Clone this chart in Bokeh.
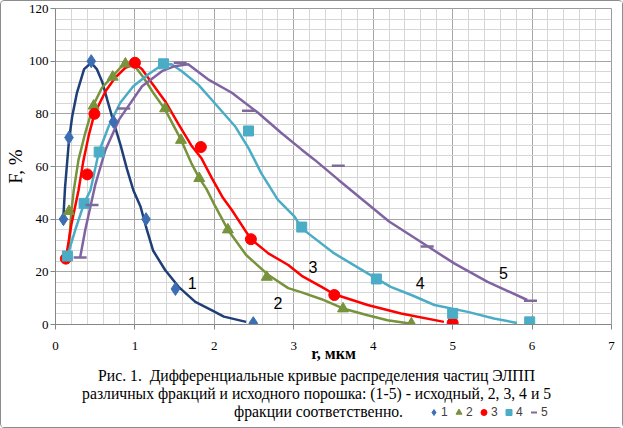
from bokeh.plotting import figure
from bokeh.layouts import column
from bokeh.models import SingleIntervalTicker, Legend, LegendItem, Range1d
from bokeh.core.properties import value
from bokeh.embed import file_html
from bokeh.resources import INLINE

# ---- measured points (markers) ----
x1 = [0.10, 0.17, 0.45, 0.73, 1.14, 1.51, 2.49]
y1 = [40, 71, 100, 77, 40, 13.5, 0.5]
x2 = [0.17, 0.48, 0.72, 0.88, 1.38, 1.58, 1.81, 2.17, 2.66, 3.62, 4.48]
y2 = [43, 83, 94, 99, 82, 70, 55.5, 36, 18, 6, 0.3]
x3 = [0.13, 0.40, 0.49, 1.00, 1.83, 2.46, 3.51, 5.00]
y3 = [25, 57, 80, 99.4, 67.4, 32.4, 11.2, 0.6]
x4 = [0.15, 0.36, 0.55, 1.36, 2.43, 3.10, 4.04, 5.00, 5.97]
y4 = [26, 46, 65.5, 99, 73.5, 37, 17.3, 4.2, 1]
x5 = [0.31, 0.46, 0.86, 1.57, 2.43, 3.56, 4.68, 5.98]
y5 = [25.4, 45.4, 82, 99.4, 81.2, 60.3, 29.6, 9]

# ---- smoothed curves ----
x1l = [0.10, 0.12, 0.17, 0.21, 0.27, 0.36, 0.45, 0.52, 0.59, 0.65, 0.73, 0.82, 0.90, 0.98,
       1.07, 1.15, 1.23, 1.38, 1.55, 1.76, 1.97, 2.12, 2.40]
y1l = [41, 52, 70, 79, 88, 97, 99.4, 97, 92, 85.5, 77, 68, 59, 51,
       44.8, 36, 28, 20.7, 14.3, 8.6, 5.4, 3, 1]
x2l = [0.16, 0.20, 0.23, 0.29, 0.375, 0.48, 0.585, 0.72, 0.815, 0.885, 0.98, 1.11, 1.23, 1.38,
       1.58, 1.71, 1.81, 1.90, 2.00, 2.17, 2.40, 2.68, 2.93, 3.10, 3.35, 3.62, 3.93, 4.18, 4.48]
y2l = [26, 43, 51, 62.6, 72.8, 83.5, 89.9, 94.3, 97.5, 99.2, 98.8, 93.7, 88, 81.6,
       70.2, 61.3, 55.6, 51.5, 45.5, 36, 26.4, 18.8, 13.8, 12.2, 9.6, 6.1, 3.5, 1.6, 0.3]
x3l = [0.13, 0.20, 0.29, 0.35, 0.42, 0.49, 0.63, 0.75, 0.88, 1.00, 1.09, 1.21, 1.38, 1.55,
       1.71, 1.84, 1.97, 2.11, 2.22, 2.46, 2.68, 2.93, 3.10, 3.35, 3.51, 3.93, 4.35, 4.89]
y3l = [25, 38, 51, 62, 72, 80, 88.6, 93.7, 97.5, 99, 96.9, 91.8, 84.8, 76,
       68, 63, 55.5, 48, 43.5, 32.4, 27, 22.6, 18.5, 14.3, 11.5, 7.4, 4.2, 1]
x4l = [0.15, 0.25, 0.36, 0.44, 0.545, 0.67, 0.815, 0.98, 1.17, 1.35, 1.46, 1.59, 1.80, 2.00,
       2.26, 2.43, 2.59, 2.80, 3.01, 3.10, 3.51, 3.93, 4.22, 4.48, 4.77, 5.19, 5.52, 5.81]
y4l = [26, 36, 46, 51, 65.4, 75.3, 84.2, 90.5, 95, 98.7, 98.8, 96.2, 91, 84.2,
       75.3, 67, 57.5, 47.3, 41, 36.5, 27, 19.4, 14.3, 11.2, 7.4, 4.8, 2.3, 0.6]
x5l = [0.31, 0.375, 0.50, 0.63, 0.80, 1.09, 1.34, 1.50, 1.67, 1.92, 2.22, 2.55, 2.84, 3.10,
       3.26, 3.56, 3.87, 4.20, 4.69, 5.02, 5.44, 5.94]
y5l = [25.4, 36, 53, 66.4, 77.8, 90.5, 96.2, 98.1, 98.8, 93.1, 88, 80.4, 72.8, 66.4,
       62.6, 55, 47.3, 39.1, 29.6, 23.2, 16.2, 9.3]

# curve number labels
lab_x = [1.72, 2.80, 3.24, 4.59, 5.64]
lab_y = [15.6, 8.2, 21.7, 15.6, 19.7]
lab_t = ["1", "2", "3", "4", "5"]

series_names = ["1", "2", "3", "4", "5"]

caption = [
    "Рис. 1.\u00a0 Дифференциальные кривые распределения частиц ЭЛПП",
    "различных фракций и исходного порошка: (1-5) - исходный, 2, 3, 4 и 5",
    "фракции соответственно.",
]

W = 621
BL, BR = 52, 11
p = figure(width=W, height=365, x_range=Range1d(0, 7), y_range=Range1d(0, 120),
           output_backend="svg", toolbar_location=None,
           min_border_left=BL, min_border_right=BR, min_border_top=7, min_border_bottom=42)
p.background_fill_color = "white"
p.outline_line_color = "#9a9a9a"
p.outline_line_width = 1

p.xaxis.ticker = SingleIntervalTicker(interval=1, num_minor_ticks=5)
p.yaxis.ticker = SingleIntervalTicker(interval=20, num_minor_ticks=5)
p.xgrid.ticker = SingleIntervalTicker(interval=1, num_minor_ticks=5)
p.ygrid.ticker = SingleIntervalTicker(interval=20, num_minor_ticks=5)
for g in (p.xgrid, p.ygrid):
    g.grid_line_color = "#a6a6a6"
    g.grid_line_width = 1
    g.minor_grid_line_color = "#d6d6d6"
    g.minor_grid_line_width = 1

for ax in (p.xaxis, p.yaxis):
    ax.axis_line_color = "#868686"
    ax.major_tick_line_color = "#868686"
    ax.major_tick_out = 5
    ax.major_tick_in = 0
    ax.minor_tick_line_color = None
    ax.major_label_text_font = "Liberation Serif"
    ax.major_label_text_font_size = "13px"
    ax.major_label_text_color = "black"
    ax.axis_label_text_font = "Liberation Serif"
    ax.axis_label_text_font_style = "normal"
    ax.axis_label_text_color = "black"

p.xaxis.axis_label = "r, мкм"
p.xaxis.axis_label_text_font_style = "bold"
p.xaxis.axis_label_text_font_size = "16px"
p.xaxis.major_label_standoff = 12
p.xaxis.axis_label_standoff = -8
p.yaxis.axis_label = "F, %"
p.yaxis.axis_label_text_font_size = "19px"
p.yaxis.major_label_standoff = 2
p.yaxis.axis_label_standoff = 0

c1m, c1l = "#3c6eb4", "#1f3f77"
c2 = "#77933c"
c3 = "#ff0000"
c4 = "#4bacc6"
c5 = "#8064a2"
c5m = "#7e6a9a"

lw = 2.5
p.line(x1l, y1l, line_width=lw, color=c1l)
p.line(x2l, y2l, line_width=lw, color=c2)
p.line(x3l, y3l, line_width=lw, color=c3)
p.line(x4l, y4l, line_width=lw, color=c4)
p.line(x5l, y5l, line_width=lw, color=c5)

p.scatter(x1, y1, marker="diamond", size=13, color=c1m)
p.scatter(x2, y2, marker="triangle", size=11, color=c2)
p.scatter(x3, y3, marker="circle", size=11, color=c3)
p.scatter(x4, y4, marker="square", size=10, color=c4)
p.scatter(x5, y5, marker="dash", size=13, line_width=2.5, color=c5m)

p.text(x=lab_x, y=lab_y, text=lab_t, text_font=value("Liberation Sans"),
       text_font_size="16px", text_align="center", text_baseline="middle", text_color="black")

# ---- caption + legend panel (same borders as the chart, so frames align) ----
H2 = 61
p2 = figure(width=W, height=H2, x_range=Range1d(BL, W - BR), y_range=Range1d(H2, 0),
            output_backend="svg", toolbar_location=None,
            min_border_left=BL, min_border_right=BR, min_border_top=0, min_border_bottom=0)
p2.axis.visible = False
p2.grid.visible = False
p2.outline_line_color = None
cap_x = [314, 314, 316]
cap_y = [9, 27, 45]
p2.text(x=cap_x, y=cap_y, text=caption, text_font=value("Liberation Serif"),
        text_font_size="15.7px", text_align="center", text_baseline="middle", text_color="black")

markers = ["diamond", "triangle", "circle", "square", "dash"]
mcolors = [c1m, c2, c3, c4, c5m]
nan = float("nan")
rends = []
for m, c in zip(markers, mcolors):
    rends.append(p2.scatter(x=[nan], y=[nan], marker=m, color=c,
                            line_width=(2 if m == "dash" else 1)))
legend = Legend(items=[LegendItem(label=n, renderers=[r]) for n, r in zip(series_names, rends)],
                orientation="horizontal", location=(423 - BL, 6),
                label_text_font="Liberation Sans", label_text_font_size="12px",
                label_text_color="#404040", glyph_width=15, glyph_height=18,
                spacing=3, label_standoff=0, label_width=7, padding=0, margin=0,
                label_height=14, background_fill_alpha=0, border_line_alpha=0)
p2.add_layout(legend)

layout = column(p, p2, spacing=0,
                styles={"border": "1px solid #8c8c8c", "border-radius": "4px", "background": "white"})

open("out.html", "w").write(file_html(layout, INLINE))
